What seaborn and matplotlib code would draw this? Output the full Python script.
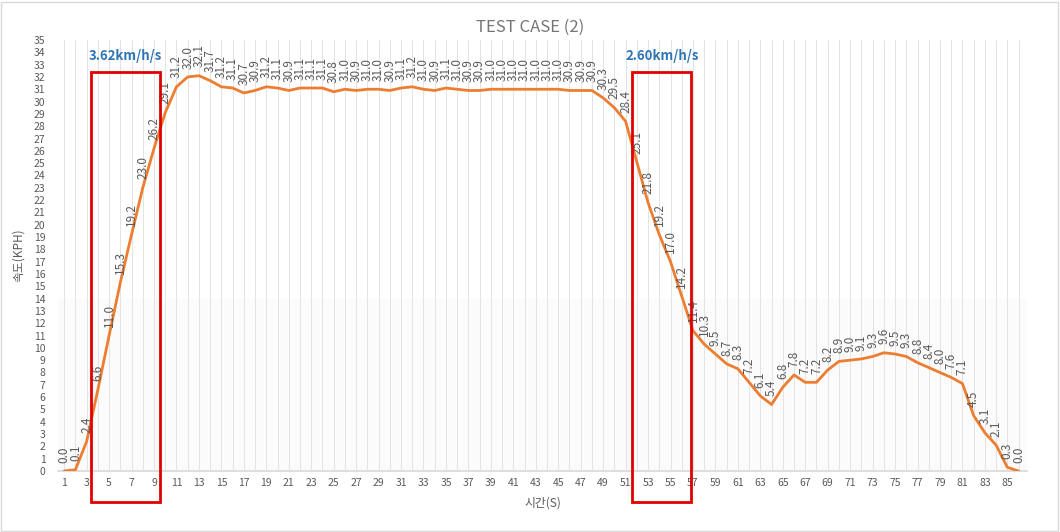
import matplotlib
matplotlib.use("Agg")
import matplotlib.pyplot as plt
import seaborn as sns
import pandas as pd
from matplotlib.patches import Rectangle

time_s = list(range(1, 87))
speed_kph = [0.0, 0.1, 2.4, 6.6, 11.0, 15.3, 19.2, 23.0, 26.2, 29.1,
             31.2, 32.0, 32.1, 31.7, 31.2, 31.1, 30.7, 30.9, 31.2, 31.1,
             30.9, 31.1, 31.1, 31.1, 30.8, 31.0, 30.9, 31.0, 31.0, 30.9,
             31.1, 31.2, 31.0, 30.9, 31.1, 31.0, 30.9, 30.9, 31.0, 31.0,
             31.0, 31.0, 31.0, 31.0, 31.0, 30.9, 30.9, 30.9, 30.3, 29.5,
             28.4, 25.1, 21.8, 19.2, 17.0, 14.2, 11.4, 10.3, 9.5, 8.7,
             8.3, 7.2, 6.1, 5.4, 6.8, 7.8, 7.2, 7.2, 8.2, 8.9,
             9.0, 9.1, 9.3, 9.6, 9.5, 9.3, 8.8, 8.4, 8.0, 7.6,
             7.1, 4.5, 3.1, 2.1, 0.3, 0.0]
x_ticks = list(range(1, 87, 2))
y_ticks = list(range(0, 36))
accel_text = "3.62km/h/s"
decel_text = "2.60km/h/s"
accel_window = (3.4, 9.55)
decel_window = (51.6, 56.85)

df = pd.DataFrame({"time": time_s, "speed": speed_kph})

sns.set_theme(style="white")
plt.rcParams['font.family'] = ['Noto Sans CJK KR', 'DejaVu Sans']

fig = plt.figure(figsize=(10.6, 5.32), dpi=100)
ax = fig.add_axes([58/1060, 61/532, (1027-58)/1060, (471-40)/532])

gray_txt = '#595959'
# very faint band background
ax.axhspan(0, 14, color='#fbfbfb', zorder=0, lw=0)
for x in time_s:
    ax.axvline(x, color='#e3e3e3', lw=0.7, zorder=1)

sns.lineplot(data=df, x="time", y="speed", ax=ax, color='#ED7D31', lw=2, zorder=3)

for x, y in zip(time_s, speed_kph):
    ax.annotate(f"{y:.1f}", (x, y), xytext=(0, 6), textcoords='offset points',
                rotation=90, ha='center', va='bottom', fontsize=8.5, color=gray_txt, zorder=4)

ax.set_xlim(0.45, 86.75)
ax.set_ylim(0, 35)
ax.set_xticks(x_ticks)
ax.set_xticklabels([str(t) for t in x_ticks])
ax.set_yticks(y_ticks)
ax.set_yticklabels([str(t) for t in y_ticks])
ax.tick_params(axis='x', labelsize=7.5, colors=gray_txt, length=0, pad=5)
ax.tick_params(axis='y', labelsize=7.5, colors=gray_txt, length=0, pad=9)
for s in ['top', 'right', 'left']:
    ax.spines[s].set_visible(False)
ax.spines['bottom'].set_color('#d9d9d9')
ax.set_xlabel("시간(S)", fontsize=8.5, color=gray_txt, labelpad=6)
ax.set_ylabel("속도(KPH)", fontsize=8.5, color=gray_txt, labelpad=6)
ax.set_title("TEST CASE (2)", fontsize=12, color='#757575')
ax.title.set_position((0.487, 1.0))
ax.title.set_y(1.005)

# red rectangles (extending below axis)
for (x0, x1), txt in [(accel_window, accel_text), (decel_window, decel_text)]:
    r = Rectangle((x0, -2.5), x1 - x0, 32.4 + 2.5, fill=False, edgecolor='#E00000',
                  lw=2, clip_on=False, zorder=5)
    ax.add_patch(r)
    ax.text((x0 + x1) / 2, 33.7, txt, ha='center', va='center', fontsize=9.5,
            fontweight='bold', color='#2E75B6', zorder=5)

fig.patches.append(Rectangle((0.001, 0.002), 0.997, 0.995, transform=fig.transFigure,
                             fill=False, edgecolor='#d9d9d9', lw=1))
fig.savefig("out.png", dpi=100)
